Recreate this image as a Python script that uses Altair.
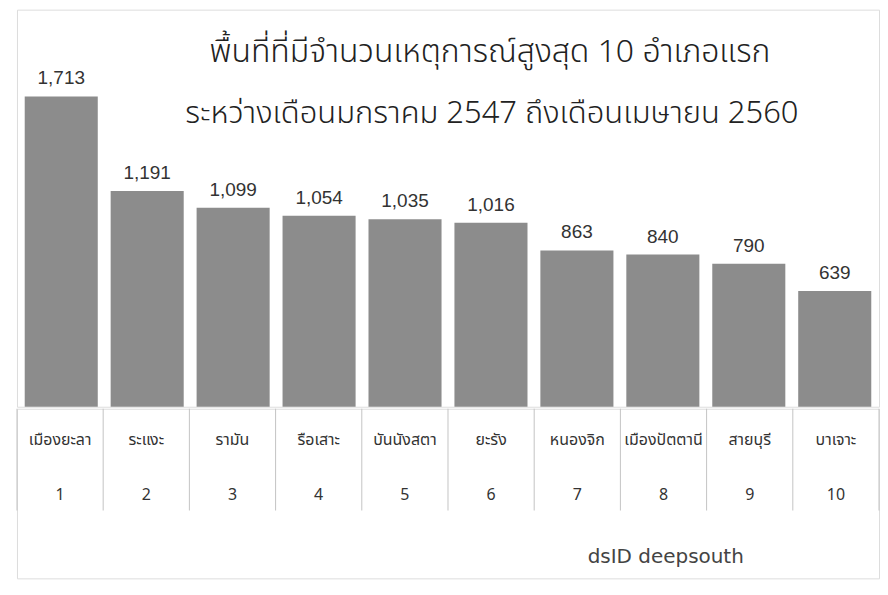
import altair as alt
import pandas as pd

districts = ["เมืองยะลา", "ระแงะ", "รามัน", "รือเสาะ", "บันนังสตา",
             "ยะรัง", "หนองจิก", "เมืองปัตตานี", "สายบุรี", "บาเจาะ"]
counts = [1713, 1191, 1099, 1054, 1035, 1016, 863, 840, 790, 639]
ranks = [str(i) for i in range(1, 11)]
title_lines = ["พื้นที่ที่มีจำนวนเหตุการณ์สูงสุด 10 อำเภอแรก",
               "ระหว่างเดือนมกราคม 2547 ถึงเดือนเมษายน 2560"]
logo_text = "dsID deepsouth"

df = pd.DataFrame({"district": districts, "count": counts, "rank": ranks})
df["label"] = df["count"].map(lambda v: f"{v:,}")

W = 864
LEFT = 8
FONT = "Noto Sans Thai, Noto Sans, Liberation Sans, sans-serif"
NUMFONT = "Liberation Sans Narrow, Arial Narrow, Liberation Sans, sans-serif"

xs_top = alt.X("district:N", sort=districts, axis=None,
               scale=alt.Scale(paddingInner=0.15, paddingOuter=0.09))
ys = alt.Y("count:Q", axis=None, scale=alt.Scale(domain=[0, 2192]))

base = alt.Chart(df)
bars = base.mark_bar(color="#8c8c8c").encode(x=xs_top, y=ys)
labels = base.mark_text(dy=-18, fontSize=19, color="#333333", font=NUMFONT).encode(
    x=xs_top, y=ys, text="label:N")

tdf = pd.DataFrame({"t": title_lines})
title1 = alt.Chart(tdf.iloc[[0]]).mark_text(fontSize=32, color="#222222", font=FONT,
                                            fontWeight=300).encode(
    x=alt.value(490 - 8 - LEFT), y=alt.value(42), text="t:N")
title2 = alt.Chart(tdf.iloc[[1]]).mark_text(fontSize=31, color="#222222", font=FONT,
                                            fontWeight=300).encode(
    x=alt.value(492 - 8 - LEFT), y=alt.value(105), text="t:N")

top = alt.layer(bars, labels, title1, title2).properties(width=W, height=398)

xs_bot = alt.X("district:N", sort=districts, axis=None,
               scale=alt.Scale(paddingInner=0, paddingOuter=0))
rules = base.mark_rule(color="#c4c4c4", strokeWidth=1).encode(
    x=alt.X("district:N", sort=districts, axis=None, bandPosition=0,
            scale=alt.Scale(paddingInner=0, paddingOuter=0)),
    y=alt.value(0), y2=alt.value(102))
last_rule = alt.Chart(df.iloc[[-1]]).mark_rule(color="#c4c4c4", strokeWidth=1).encode(
    x=alt.X("district:N", sort=districts, axis=None, bandPosition=1),
    y=alt.value(0), y2=alt.value(102))
names = base.mark_text(fontSize=16, color="#333333", font=FONT).encode(
    x=xs_bot, y=alt.value(31), text="district:N")
nums = base.mark_text(fontSize=16, color="#333333", font=FONT).encode(
    x=xs_bot, y=alt.value(86), text="rank:N")
ldf = pd.DataFrame({"t": [logo_text]})
logo = alt.Chart(ldf).mark_text(fontSize=20, color="#444444", align="left",
                                font="DejaVu Sans").encode(
    x=alt.value(588 - 8 - LEFT), y=alt.value(149), text="t:N")

bottom = alt.layer(rules, last_rule, names, nums, logo).properties(width=W, height=170)

chart = alt.vconcat(top, bottom, spacing=0).resolve_scale(x="independent").properties(
    padding={"left": LEFT, "top": 0, "right": 0, "bottom": 0}
).configure_view(strokeWidth=0, stroke="transparent").configure(background="white")

chart.save("out.html", embed_options={"renderer": "svg", "actions": False})
